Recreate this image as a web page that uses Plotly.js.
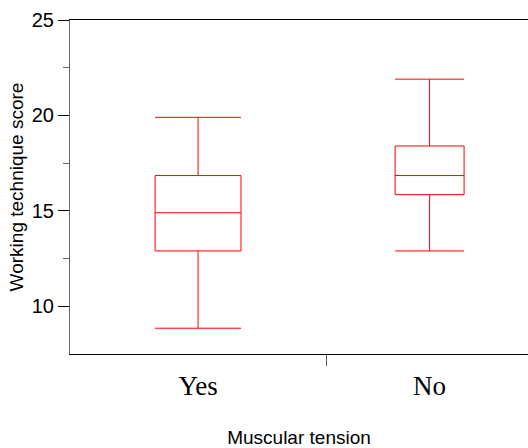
<!DOCTYPE html>
<html>
<head>
<meta charset="utf-8">
<script src="https://cdn.plot.ly/plotly-3.0.1.min.js"></script>
<style>html,body{margin:0;padding:0;background:#fff;}#chart{width:528px;height:448px;}</style>
</head>
<body>
<div id="chart"></div>
<script>
const categories = ["Yes", "No"];
const catPositions = [0, 1];
const lowerWhisker = [8.85, 12.9];
const q1Values = [12.9, 15.85];
const medianValues = [14.9, 16.85];
const q3Values = [16.85, 18.4];
const upperWhisker = [19.9, 21.9];
const boxWidths = [0.371, 0.298];
const yTickVals = [10, 15, 20, 25];
const yMinorVals = [12.5, 17.5, 22.5];
const xSeparatorTick = [0.553];

const traces = categories.map((c, i) => ({
  type: "box",
  name: c,
  x: [catPositions[i]],
  lowerfence: [lowerWhisker[i]],
  q1: [q1Values[i]],
  median: [medianValues[i]],
  q3: [q3Values[i]],
  upperfence: [upperWhisker[i]],
  width: boxWidths[i],
  whiskerwidth: 1,
  fillcolor: "rgba(0,0,0,0)",
  line: {color: "#ff0000", width: 1},
  boxpoints: false,
  hoverinfo: "skip"
}));

const layout = {
  width: 528, height: 448,
  margin: {l: 70, r: 0, t: 20, b: 94},
  paper_bgcolor: "#fff", plot_bgcolor: "#fff",
  showlegend: false,
  xaxis: {
    range: [-0.553, 1.425],
    tickvals: catPositions, ticktext: categories,
    ticks: "", showgrid: false, zeroline: false,
    showline: true, linecolor: "#000", linewidth: 1, mirror: true,
    tickfont: {family: "Liberation Serif, Times New Roman, serif", size: 27, color: "#000"},
    ticklabelstandoff: 8,
    minor: {tickvals: xSeparatorTick, ticks: "outside", ticklen: 11, tickcolor: "#555", tickwidth: 1, showgrid: false},
    title: {text: "Muscular tension", font: {family: "Liberation Sans, Arial, sans-serif", size: 19, color: "#000"}, standoff: 40}
  },
  yaxis: {
    range: [7.5, 25],
    tickvals: yTickVals,
    ticks: "outside", ticklen: 11, tickcolor: "#000", tickwidth: 1,
    showgrid: false, zeroline: false,
    showline: true, linecolor: "#666", linewidth: 1,
    tickfont: {family: "Liberation Sans, Arial, sans-serif", size: 20, color: "#000"},
    minor: {tickvals: yMinorVals, ticks: "outside", ticklen: 6, tickcolor: "#666", tickwidth: 1, showgrid: false},
    title: {text: "Working technique score", font: {family: "Liberation Sans, Arial, sans-serif", size: 19, color: "#000"}, standoff: 3}
  }
};

Plotly.newPlot("chart", traces, layout, {staticPlot: true, displayModeBar: false});
</script>
</body>
</html>
